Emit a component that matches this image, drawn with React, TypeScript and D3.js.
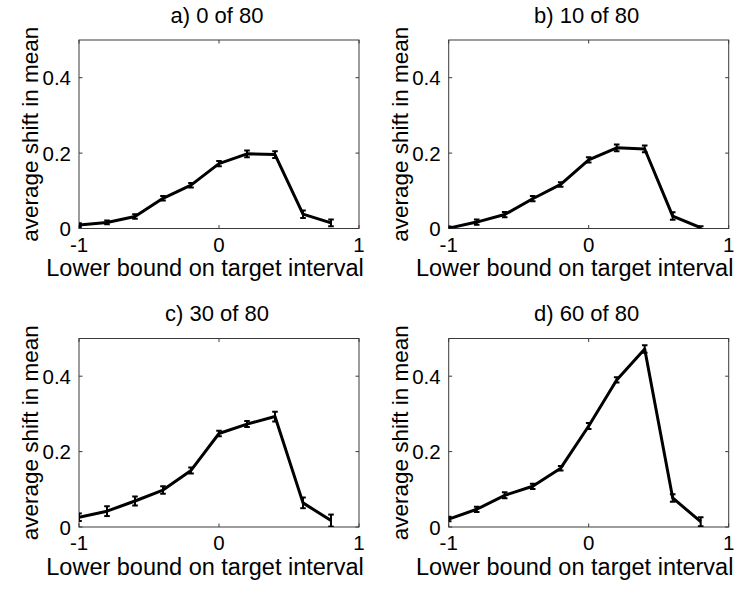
import React from "react";
import * as d3 from "d3";

// Lower bound of the target interval (shared x positions)
const lowerBounds = [-1, -0.8, -0.6, -0.4, -0.2, 0, 0.2, 0.4, 0.6, 0.8];

// Average shift in mean and its error, one pair per panel
const meanA = [0.009, 0.016, 0.032, 0.08, 0.115, 0.172, 0.198, 0.196, 0.038, 0.015];
const errA = [0.005, 0.005, 0.006, 0.006, 0.006, 0.007, 0.009, 0.009, 0.01, 0.009];

const meanB = [0.001, 0.017, 0.037, 0.079, 0.117, 0.182, 0.214, 0.211, 0.033, 0.002];
const errB = [0.004, 0.007, 0.007, 0.007, 0.006, 0.007, 0.009, 0.009, 0.01, 0.004];

const meanC = [0.026, 0.042, 0.069, 0.098, 0.15, 0.248, 0.273, 0.293, 0.064, 0.017];
const errC = [0.01, 0.013, 0.012, 0.01, 0.008, 0.007, 0.008, 0.013, 0.014, 0.016];

const meanD = [0.021, 0.047, 0.084, 0.108, 0.156, 0.268, 0.39, 0.472, 0.077, 0.014];
const errD = [0.006, 0.007, 0.008, 0.007, 0.006, 0.008, 0.007, 0.01, 0.01, 0.012];

const panelTitles = ["a) 0 of 80", "b) 10 of 80", "c) 30 of 80", "d) 60 of 80"];
const xTicks = [-1, 0, 1];
const yTicks = [0, 0.2, 0.4];
const xLabel = "Lower bound on target interval";
const yLabel = "average shift in mean";

const WIDTH = 741;
const HEIGHT = 594;
const FONT = "'Liberation Sans', Arial, Helvetica, sans-serif";

const panels = [
  { title: panelTitles[0], mean: meanA, err: errA, left: 79, top: 40 },
  { title: panelTitles[1], mean: meanB, err: errB, left: 448.7, top: 40 },
  { title: panelTitles[2], mean: meanC, err: errC, left: 79, top: 338.5 },
  { title: panelTitles[3], mean: meanD, err: errD, left: 448.7, top: 338.5 },
];

const AX_W = 280;
const AX_H = 188.5;
const TICK = 3.5;

function Panel({ title, mean, err, left, top }: { title: string; mean: number[]; err: number[]; left: number; top: number }) {
  const x = d3.scaleLinear().domain([-1, 1]).range([left, left + AX_W]);
  const y = d3.scaleLinear().domain([0, 0.5]).range([top + AX_H, top]);
  const pts = lowerBounds.map((b, i) => [b, mean[i]] as [number, number]);
  const line = d3
    .line<[number, number]>()
    .x((d) => x(d[0]))
    .y((d) => y(d[1]));
  const cap = 2.8;
  const axisColor = "#3a3a3a";
  return (
    <g>
      <rect x={left} y={top} width={AX_W} height={AX_H} fill="#fff" stroke={axisColor} strokeWidth={1} />
      {xTicks.map((t) => (
        <g key={"xt" + t}>
          <line x1={x(t)} x2={x(t)} y1={top + AX_H} y2={top + AX_H - TICK} stroke={axisColor} />
          <line x1={x(t)} x2={x(t)} y1={top} y2={top + TICK} stroke={axisColor} />
          <text x={x(t)} y={top + AX_H + 23} textAnchor="middle" fontSize={20.5} fontFamily={FONT} fill="#000">
            {t}
          </text>
        </g>
      ))}
      {yTicks.map((t) => (
        <g key={"yt" + t}>
          <line x1={left} x2={left + TICK} y1={y(t)} y2={y(t)} stroke={axisColor} />
          <line x1={left + AX_W} x2={left + AX_W - TICK} y1={y(t)} y2={y(t)} stroke={axisColor} />
          <text x={left - 8} y={y(t) + 7.5} textAnchor="end" fontSize={20.5} fontFamily={FONT} fill="#000">
            {t}
          </text>
        </g>
      ))}
      <clipPath id={"clip" + title[0]}>
        <rect x={left} y={top - 4} width={AX_W} height={AX_H + 4} />
      </clipPath>
      <g clipPath={`url(#clip${title[0]})`}>
        <path d={line(pts) || ""} fill="none" stroke="#000" strokeWidth={3} strokeLinejoin="round" />
        {pts.map((p, i) => {
          const cx = x(p[0]);
          const y1 = y(p[1] - err[i]);
          const y2 = y(p[1] + err[i]);
          return (
            <g key={i} stroke="#000" strokeWidth={2}>
              <line x1={cx} x2={cx} y1={y1} y2={y2} />
              <line x1={cx - cap} x2={cx + cap} y1={y1} y2={y1} />
              <line x1={cx - cap} x2={cx + cap} y1={y2} y2={y2} />
            </g>
          );
        })}
      </g>
      <text x={left + AX_W / 2 - 2} y={top - 17.5} textAnchor="middle" fontSize={22} fontFamily={FONT} fill="#000">
        {title}
      </text>
      <text x={left + AX_W / 2 - 14} y={top + AX_H + 47.5} textAnchor="middle" fontSize={23.5} fontFamily={FONT} fill="#000">
        {xLabel}
      </text>
      <text
        transform={`translate(${left - 41},${top + AX_H / 2}) rotate(-90)`}
        textAnchor="middle"
        fontSize={22.5}
        fontFamily={FONT}
        fill="#000"
      >
        {yLabel}
      </text>
    </g>
  );
}

export default function App() {
  return (
    <svg
      width={WIDTH}
      height={HEIGHT}
      viewBox={`0 0 ${WIDTH} ${HEIGHT}`}
      style={{ position: "absolute", left: 0, top: 0, background: "#fff" }}
    >
      <rect width={WIDTH} height={HEIGHT} fill="#fff" />
      {panels.map((p) => (
        <Panel key={p.title} {...p} />
      ))}
    </svg>
  );
}
